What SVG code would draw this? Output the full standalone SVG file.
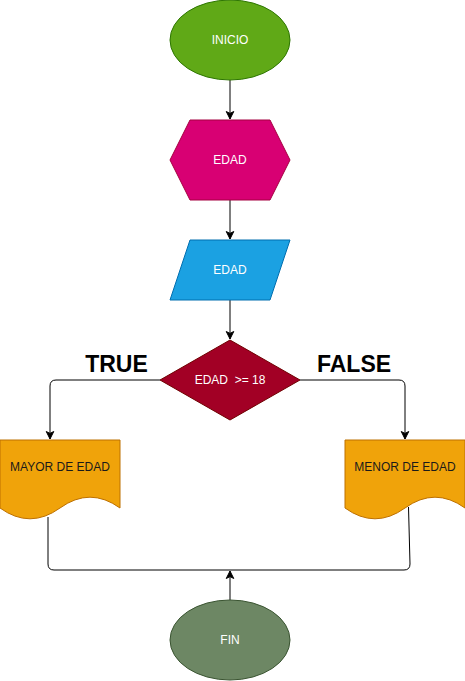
<svg xmlns="http://www.w3.org/2000/svg" width="465" height="681" viewBox="0 0 465 681">
<style>
.lbl{font-family:"Liberation Sans",Arial,sans-serif;font-size:12px;fill:#ffffff;text-anchor:middle;dominant-baseline:central}
.dark{fill:#1a1a1a}
.big{font-family:"Liberation Sans",Arial,sans-serif;font-size:23px;font-weight:bold;fill:#000;text-anchor:middle;dominant-baseline:central}
.edge{fill:none;stroke:#000;stroke-width:1}
</style>
<defs>
<marker id="arr" markerUnits="userSpaceOnUse" markerWidth="10" markerHeight="10" viewBox="-8 -5 10 10" refX="0" refY="0" orient="auto">
<path d="M0,0 L-7.5,-3.75 L-5.6,0 L-7.5,3.75 Z" fill="#000" stroke="#000" stroke-width="1"/>
</marker>
</defs>
<g id="connectors">
<path class="edge" d="M230,80 L230,119" marker-end="url(#arr)"/>
<path class="edge" d="M230,200 L230,239" marker-end="url(#arr)"/>
<path class="edge" d="M230,300 L230,339" marker-end="url(#arr)"/>
<path class="edge" d="M160,380 L56,380 Q50,380 50,386 L50,439" marker-end="url(#arr)"/>
<path class="edge" d="M300,380 L399,380 Q405,380 405,386 L405,439" marker-end="url(#arr)"/>
<path class="edge" d="M48,517 L48,564 Q48,570 54,570 L404,570 Q410,570 410,564 L408.5,507"/>
<path class="edge" d="M230,600 L230,571" marker-end="url(#arr)"/>
</g>
<g id="inicio">
<ellipse cx="230" cy="40" rx="60" ry="40" fill="#60a917" stroke="#2d7600"/>
<text class="lbl" x="230" y="40">INICIO</text>
</g>
<g id="edad-hex">
<polygon points="190,120 270,120 290,160 270,200 190,200 170,160" fill="#d80073" stroke="#a50040"/>
<text class="lbl" x="230" y="160">EDAD</text>
</g>
<g id="edad-input">
<polygon points="190,240 290,240 270,300 170,300" fill="#1ba1e2" stroke="#006eaf"/>
<text class="lbl" x="230" y="270">EDAD</text>
</g>
<g id="decision">
<polygon points="230,340 300,380 230,420 160,380" fill="#a20025" stroke="#6f0000"/>
<text class="lbl" x="230" y="380" xml:space="preserve">EDAD  &gt;= 18</text>
</g>
<g id="true-label">
<text class="big" x="116.5" y="364">TRUE</text>
</g>
<g id="false-label">
<text class="big" x="354" y="364">FALSE</text>
</g>
<g id="mayor">
<path d="M0,440 L120,440 L120,508 Q90,486.4 60,508 Q30,529.6 0,508 Z" fill="#f0a30a" stroke="#bd7000"/>
<text class="lbl dark" x="60" y="467">MAYOR DE EDAD</text>
</g>
<g id="menor">
<path d="M345,440 L465,440 L465,508 Q435,486.4 405,508 Q375,529.6 345,508 Z" fill="#f0a30a" stroke="#bd7000"/>
<text class="lbl dark" x="405" y="467">MENOR DE EDAD</text>
</g>
<g id="fin">
<ellipse cx="230" cy="640" rx="60" ry="40" fill="#6d8764" stroke="#3a5431"/>
<text class="lbl" x="230" y="640">FIN</text>
</g>
</svg>
